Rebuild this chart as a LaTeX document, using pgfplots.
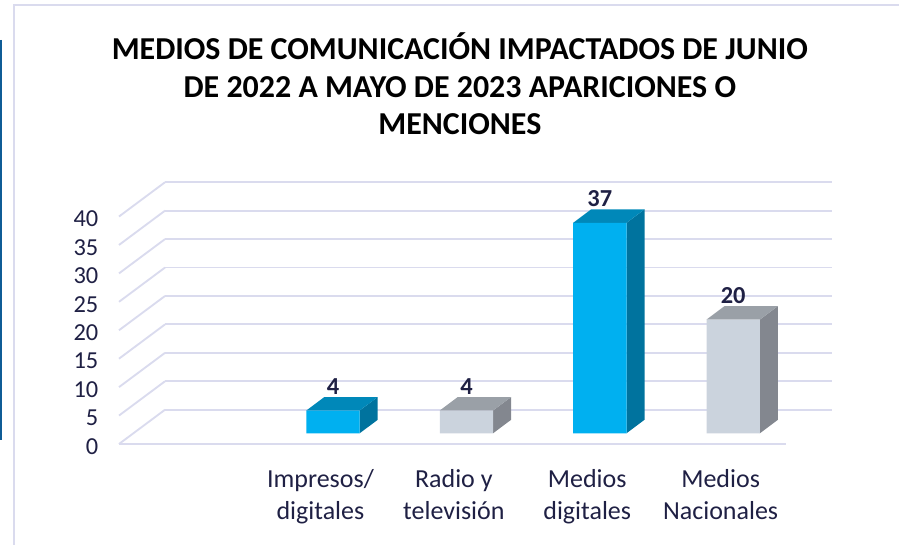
\documentclass[border=0pt]{standalone}
\usepackage{fontspec}
\setmainfont{Carlito}
\usepackage{pgfplots}
\pgfplotsset{compat=1.18}
\definecolor{ink}{RGB}{31,32,68}
\definecolor{gridc}{RGB}{218,219,238}
\definecolor{edgeb}{RGB}{15,92,150}
\definecolor{blueF}{RGB}{0,176,240}
\definecolor{blueT}{RGB}{0,136,185}
\definecolor{blueS}{RGB}{0,115,158}
\definecolor{grayF}{RGB}{203,211,221}
\definecolor{grayT}{RGB}{154,160,167}
\definecolor{grayS}{RGB}{131,135,143}
% one unit of the picture is one pixel of the reference
\pgfplotsset{
  chart/.style={
    scale only axis, width=500.25pt, height=170.6pt,
    xmin=-0.5, xmax=4.5, ymin=0, ymax=40,
    anchor=south west, clip=false,
    axis line style={draw=none}, tick style={draw=none},
    /pgf/number format/assume math mode=true,
  },
  slant/.style={gridc, line width=1.4pt},
  bar3d/.style={fill=#1, draw=none},
}
\begin{document}
\begin{tikzpicture}[x=0.75pt,y=0.75pt]
\path[use as bounding box] (0,0) rectangle (899,545);
% frame of the slide behind the chart
\draw[gridc, line width=1.4pt] (14,0) -- (14,540) -- (899,540);
\draw[edgeb, line width=1.4pt] (0.7,505) -- (0.7,105);

% back wall
\begin{axis}[chart, at={(123.75pt,101.5pt)},
  ytick={0,5,...,40}, xtick=\empty, yticklabels={},
  ymajorgrids, major grid style={gridc, line width=1.4pt}]
\end{axis}

% front plane: floor edge, slanted lines, tick labels, title
\begin{axis}[chart, at={(89.25pt,75.75pt)},
  xtick={1,2,3,4},
  xticklabels={{Impresos/\\digitales},{Radio y\\televisión},{Medios\\digitales},{Medios\\Nacionales}},
  x tick label style={align=center, font=\fontsize{19.5}{24}\selectfont, text=ink, yshift=-15.5pt, xshift=1pt},
  ytick={0,5,...,40},
  y tick label style={font=\fontsize{18.3}{20}\selectfont, text=ink, xshift=-12pt, yshift=-1.8pt},
  title={MEDIOS DE COMUNICACIÓN IMPACTADOS DE JUNIO\\DE 2022 A MAYO DE 2023 APARICIONES O\\MENCIONES},
  title style={at={(0.511,1)}, anchor=south, align=center, yshift=52pt,
    font=\fontsize{23.95}{27.9}\selectfont\bfseries},
]
\addplot[slant] coordinates {(-0.5,0) (4.5,0)};
\addplot[slant] coordinates {(-0.5,0) (-0.155,6.03)};
\addplot[slant] coordinates {(-0.5,5) (-0.155,11.03)};
\addplot[slant] coordinates {(-0.5,10) (-0.155,16.03)};
\addplot[slant] coordinates {(-0.5,15) (-0.155,21.03)};
\addplot[slant] coordinates {(-0.5,20) (-0.155,26.03)};
\addplot[slant] coordinates {(-0.5,25) (-0.155,31.03)};
\addplot[slant] coordinates {(-0.5,30) (-0.155,36.03)};
\addplot[slant] coordinates {(-0.5,35) (-0.155,41.03)};
\addplot[slant] coordinates {(-0.5,40) (-0.155,46.03)};
\end{axis}

% bars stand in the middle of the floor
\begin{axis}[chart, at={(99.7pt,83.8pt)}, xtick=\empty, ytick=\empty,
  nodes near coords style={font=\fontsize{18.3}{20}\selectfont\bfseries, text=ink, anchor=center, yshift=18pt}]
% side and top faces
\addplot[bar3d=blueS] coordinates {(1.2,0) (1.335,2.37) (1.335,6.37) (1.2,4)};
\addplot[bar3d=blueT] coordinates {(0.8,4) (1.2,4) (1.335,6.37) (0.935,6.37)};
\addplot[bar3d=grayS] coordinates {(2.2,0) (2.335,2.37) (2.335,6.37) (2.2,4)};
\addplot[bar3d=grayT] coordinates {(1.8,4) (2.2,4) (2.335,6.37) (1.935,6.37)};
\addplot[bar3d=blueS] coordinates {(3.2,0) (3.335,2.37) (3.335,39.37) (3.2,37)};
\addplot[bar3d=blueT] coordinates {(2.8,37) (3.2,37) (3.335,39.37) (2.935,39.37)};
\addplot[bar3d=grayS] coordinates {(4.2,0) (4.335,2.37) (4.335,22.37) (4.2,20)};
\addplot[bar3d=grayT] coordinates {(3.8,20) (4.2,20) (4.335,22.37) (3.935,22.37)};
% front faces
\addplot[ybar, bar width=40pt, bar shift=0pt, fill=blueF, draw=none, nodes near coords] coordinates {(1,4) (3,37)};
\addplot[ybar, bar width=40pt, bar shift=0pt, fill=grayF, draw=none, nodes near coords] coordinates {(2,4) (4,20)};
\end{axis}
\end{tikzpicture}
\end{document}
